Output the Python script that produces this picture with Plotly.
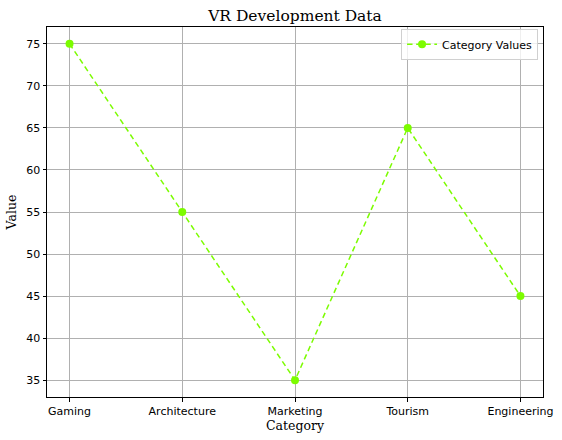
import plotly.graph_objects as go

categories = ["Gaming", "Architecture", "Marketing", "Tourism", "Engineering"]
values = [75, 55, 35, 65, 45]
y_ticks = [35, 40, 45, 50, 55, 60, 65, 70, 75]

fig = go.Figure()
fig.add_trace(go.Scatter(
    x=list(range(len(categories))), y=values, mode="lines+markers",
    name="Category Values",
    line=dict(color="#7CFC00", width=1.5, dash="5.5px,3.6px"),
    marker=dict(color="#7CFC00", size=8),
))

axis_common = dict(
    showline=True, linecolor="black", linewidth=1, mirror=True,
    showgrid=True, gridcolor="#b0b0b0", gridwidth=0.8,
    ticks="outside", ticklen=3.5, tickcolor="black", tickwidth=0.8,
    tickfont=dict(family="DejaVu Sans", size=11, color="black"),
    zeroline=False, automargin=False,
)

fig.update_layout(
    width=562, height=440,
    margin=dict(l=47, r=19, t=27, b=43),
    paper_bgcolor="white", plot_bgcolor="white",
    title=dict(text="VR Development Data", xref="paper", x=0.5, xanchor="center",
               y=0.965, yanchor="middle",
               font=dict(family="DejaVu Serif", size=15.5, color="black")),
    xaxis=dict(axis_common, range=[-0.2, 4.2], tickvals=list(range(len(categories))),
               ticktext=categories,
               title=dict(text="Category", standoff=2,
                          font=dict(family="DejaVu Serif", size=12.5, color="black"))),
    yaxis=dict(axis_common, range=[33, 77], tickvals=y_ticks,
               title=dict(text="Value", standoff=6,
                          font=dict(family="DejaVu Serif", size=12.5, color="black"))),
    showlegend=True,
    legend=dict(x=0.99, y=0.995, xanchor="right", yanchor="top",
                bgcolor="rgba(255,255,255,0.8)", bordercolor="#d0d0d0", borderwidth=1,
                font=dict(family="DejaVu Sans", size=11, color="black")),
)

fig.write_html("out.html", config={"displayModeBar": False},
               post_script="document.body.style.margin='0';")
